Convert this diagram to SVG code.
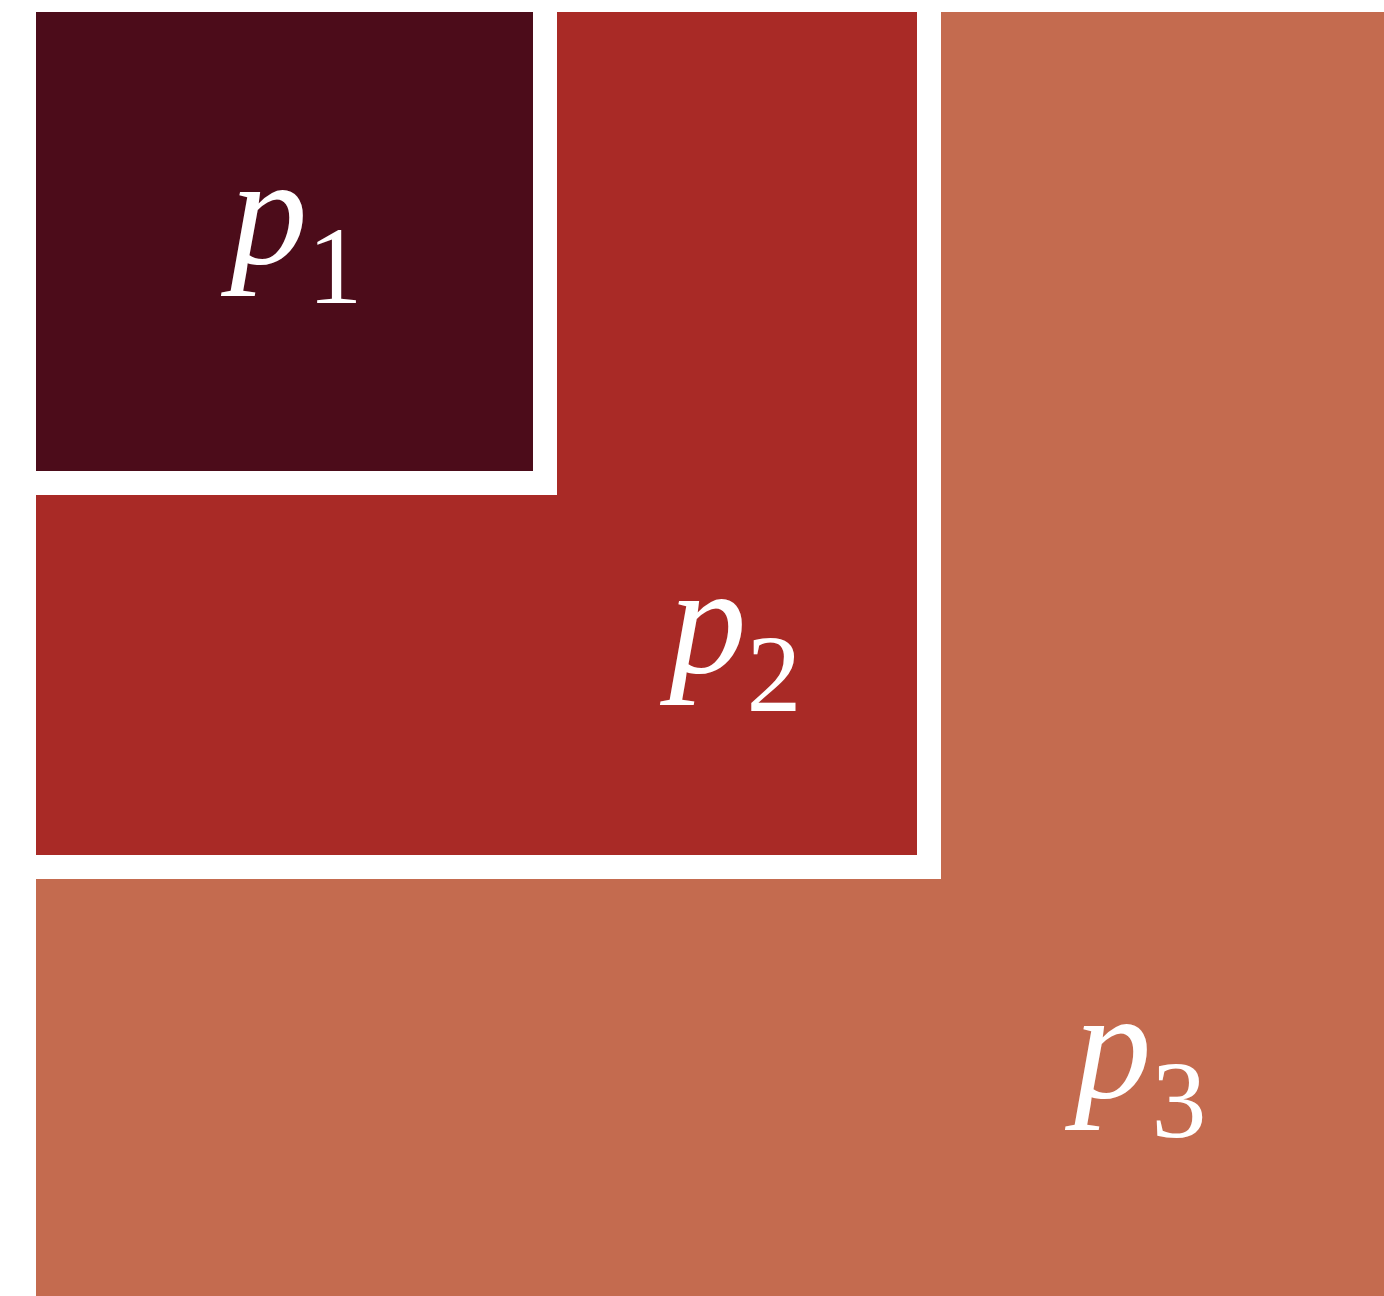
<svg xmlns="http://www.w3.org/2000/svg" width="1384" height="1296" viewBox="0 0 1384 1296">
<style>
.lbl{font-family:'Liberation Serif','Times New Roman',Times,serif;font-style:italic;font-size:155px;fill:#ffffff}
.sub{font-style:normal;font-size:110px}
.gap{fill:#ffffff}
</style>
<rect width="1384" height="1296" fill="#ffffff"/>
<g id="p3">
<rect x="36" y="12" width="1348" height="1284" fill="#C46B4F"/>
<rect class="gap" x="36" y="12" width="905" height="867"/>
<text class="lbl" font-family="Liberation Serif, serif" x="1074" y="1097">p<tspan class="sub" dy="40">3</tspan></text>
</g>
<g id="p2">
<rect x="36" y="12" width="881" height="843" fill="#A92A26"/>
<rect class="gap" x="36" y="12" width="521" height="483"/>
<text class="lbl" font-family="Liberation Serif, serif" x="669" y="672">p<tspan class="sub" dy="39">2</tspan></text>
</g>
<g id="p1">
<rect x="36" y="12" width="497" height="459" fill="#4C0C1A"/>
<text class="lbl" font-family="Liberation Serif, serif" x="230" y="263">p<tspan class="sub" dy="40">1</tspan></text>
</g>
</svg>
